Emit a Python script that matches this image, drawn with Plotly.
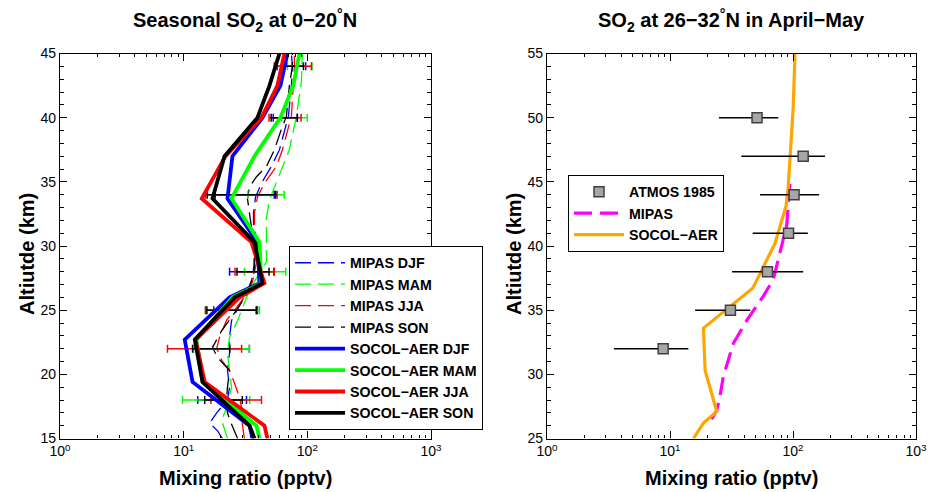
import plotly.graph_objects as go

W, H = 928, 492

# ---------------- Left: seasonal SO2 at 0-20N ----------------
# SOCOL-AER seasonal profiles (altitude km, mixing ratio pptv)
socol_alt = [15, 16, 19.4, 22.7, 26, 27.1, 30.3, 33.7, 37, 40, 42.5, 45]
socol_djf = [36.0, 34.1, 11.8, 10.2, 23.5, 41.0, 39.5, 22.6, 24.8, 43.4, 60.6, 69.0]
socol_mam = [41.0, 38.8, 14.2, 12.7, 24.8, 42.6, 41.0, 24.4, 37.4, 60.6, 77.1, 86.2]
socol_jja = [47.6, 45.0, 14.8, 12.5, 28.3, 45.0, 35.3, 14.0, 21.8, 42.6, 57.3, 65.3]
socol_son = [37.4, 34.1, 14.2, 12.3, 25.8, 43.4, 37.4, 17.1, 21.4, 39.5, 49.4, 59.5]

# MIPAS seasonal profiles
mipas_djf_alt = [15, 15.6, 16.2, 17, 18, 19, 20.3, 21.7, 22.9, 24.2, 25.8, 27.2, 28.75,
                 30.3, 31.5, 32.6, 33.8, 34.9, 36.2, 37.5, 40.1, 42.5, 44, 45]
mipas_djf = [20.6, 18.8, 16.2, 18.5, 22.6, 23.5, 22.6, 23.5, 23.5, 24.4, 29.9, 35.3, 37.4,
             38.1, 36.7, 36.7, 38.1, 42.6, 51.2, 59.5, 70.3, 74.3, 75.7, 74.3]
mipas_mam_alt = [15, 16.4, 17.4, 19, 20.3, 21.6, 22.9, 24.2, 26.2, 27.5, 28.75, 30.3,
                 32.2, 33.6, 35.2, 37.5, 40.1, 42.8, 45]
mipas_mam = [22.6, 20.3, 22.2, 24.4, 23.5, 22.6, 23.5, 27.3, 32.8, 38.8, 46.7, 46.7,
             46.7, 49.4, 57.3, 71.6, 81.5, 89.5, 91.1]
mipas_jja_alt = [15, 16.5, 17.4, 18.2, 19.3, 20.3, 21.1, 22, 22.9, 24.2, 25.8, 27.2, 28.75,
                 30.3, 31.5, 32.6, 33.8, 34.9, 36.2, 37.5, 40.1, 42.5, 44, 45]
mipas_jja = [31.0, 29.4, 29.4, 28.3, 25.8, 23.5, 20.3, 18.5, 19.5, 22.2, 29.9, 36.0, 38.8,
             38.8, 37.4, 37.4, 39.5, 45.0, 56.2, 62.9, 74.3, 77.1, 78.6, 78.6]
mipas_son_alt = [15, 16.1, 17, 18, 19, 20.3, 21.3, 22.1, 23.4, 25, 26.2, 28, 30.3, 32.6,
                 33.7, 34.6, 35.4, 36.2, 37.5, 39.1, 40.1, 42.5, 44, 45]
mipas_son = [27.3, 24.4, 22.6, 22.2, 22.6, 23.5, 18.8, 17.1, 20.3, 26.8, 32.2, 37.4, 36.7, 34.1,
             32.8, 34.1, 38.8, 46.7, 54.2, 61.7, 67.7, 71.6, 75.7, 75.7]

# MIPAS values and uncertainties at the error-bar levels
err_alt = [18, 22, 25, 28, 34, 40, 44]
err_djf_val = [22.6, 23.5, 28.5, 38.5, 36.0, 68.0, 77.0]
err_djf = [9.6, 10.5, 11.0, 15.0, 18.0, 15.0, 20.0]
err_mam_val = [22.0, 23.0, 28.0, 49.0, 49.0, 81.0, 89.0]
err_mam = [12.2, 11.0, 13.0, 18.0, 16.0, 19.0, 20.0]
err_jja_val = [29.6, 18.4, 27.0, 40.0, 36.0, 69.0, 81.0]
err_jja = [13.0, 11.0, 12.0, 14.0, 21.0, 20.0, 27.0]
err_son_val = [22.3, 17.7, 27.0, 38.0, 35.5, 67.0, 78.0]
err_son = [7.5, 5.9, 11.6, 11.0, 20.0, 16.0, 15.0]

# ---------------- Right: SO2 at 26-32N in April-May ----------------
atmos_alt = [50, 47, 44, 41, 38, 35, 32]
atmos_val = [51.0, 121.0, 102.0, 92.0, 62.0, 31.0, 8.8]
atmos_err_plus = [25.0, 61.0, 61.0, 40.0, 59.0, 14.0, 5.3]
atmos_err_minus = [26.0, 83.0, 48.0, 45.0, 30.0, 15.0, 5.3]

mipas_am_alt = [26.5, 27.2, 28.3, 29.8, 32.4, 34.2, 36.1, 37.4, 39.5, 41.6, 43.1, 45]
mipas_am = [21.8, 24.0, 25.5, 27.1, 32.7, 42.1, 57.4, 69.2, 78.4, 88.9, 91.5, 94.6]

socol_am_alt = [25, 26.2, 27.1, 30.3, 33.6, 36.7, 40.2, 41.6, 43.1, 44.6, 47, 50.9, 55]
socol_am = [15.5, 18.7, 24.0, 19.3, 18.7, 47.0, 71.4, 78.4, 87.7, 91.5, 94.6, 100.5, 103.8]

x_ticks = [1, 10, 100, 1000]
x_ticktext = ["10<sup>0</sup>", "10<sup>1</sup>", "10<sup>2</sup>", "10<sup>3</sup>"]

BLUE, GREEN, RED, BLACK = "#0000ff", "#00ff00", "#ff0000", "#000000"
ORANGE, MAGENTA = "#ffa500", "#ff00ff"
FONT = "Liberation Sans, Arial, Helvetica, sans-serif"

fig = go.Figure()

seasons = [
    ("DJF", BLUE, mipas_djf_alt, mipas_djf, err_djf_val, err_djf, socol_djf),
    ("MAM", GREEN, mipas_mam_alt, mipas_mam, err_mam_val, err_mam, socol_mam),
    ("JJA", RED, mipas_jja_alt, mipas_jja, err_jja_val, err_jja, socol_jja),
    ("SON", BLACK, mipas_son_alt, mipas_son, err_son_val, err_son, socol_son),
]

# MIPAS dashed profiles
for name, col, alt, val, _, _, _ in seasons:
    fig.add_trace(go.Scatter(
        x=val, y=alt, mode="lines", name=f"MIPAS {name}",
        line=dict(color=col, width=1.3, dash="16px,7px"),
        xaxis="x", yaxis="y", legend="legend", legendrank=1,
    ))

# MIPAS uncertainties
for name, col, _, _, ev, ee, _ in seasons:
    fig.add_trace(go.Scatter(
        x=ev, y=err_alt, mode="markers", showlegend=False,
        marker=dict(size=1, color=col),
        error_x=dict(type="data", array=ee, symmetric=True, color=col,
                     thickness=1.5, width=4),
        xaxis="x", yaxis="y", hoverinfo="skip",
    ))

# SOCOL-AER solid profiles
for name, col, _, _, _, _, sv in seasons:
    fig.add_trace(go.Scatter(
        x=sv, y=socol_alt, mode="lines", name=f"SOCOL\u2212AER {name}",
        line=dict(color=col, width=3.8),
        xaxis="x", yaxis="y", legend="legend", legendrank=2,
    ))

# Right panel
fig.add_trace(go.Scatter(
    x=mipas_am, y=mipas_am_alt, mode="lines", name="MIPAS",
    line=dict(color=MAGENTA, width=3.2, dash="18px,8px"),
    xaxis="x2", yaxis="y2", legend="legend2", legendrank=2,
))
fig.add_trace(go.Scatter(
    x=socol_am, y=socol_am_alt, mode="lines", name="SOCOL\u2212AER",
    line=dict(color=ORANGE, width=3.2),
    xaxis="x2", yaxis="y2", legend="legend2", legendrank=3,
))
fig.add_trace(go.Scatter(
    x=atmos_val, y=atmos_alt, mode="markers", name="ATMOS 1985",
    marker=dict(symbol="square", size=10, color="#a6a6a6",
                line=dict(color="#404040", width=1.5)),
    error_x=dict(type="data", array=atmos_err_plus, arrayminus=atmos_err_minus,
                 symmetric=False, color="#000000", thickness=1.5, width=0),
    xaxis="x2", yaxis="y2", legend="legend2", legendrank=1,
))

# ---------------- Layout ----------------
def px_x(p):
    return p / W

def px_y(p):
    return 1 - p / H

left_dom = [px_x(60), px_x(431)]
right_dom = [px_x(547), px_x(916)]
y_dom = [px_y(438.5), px_y(53.5)]

tickfont = dict(family=FONT, size=14, color="black")

def xaxis_common(dom, anchor):
    return dict(
        domain=dom, anchor=anchor, type="log", range=[0, 3], automargin=False,
        tickvals=x_ticks, ticktext=x_ticktext, ticks="inside", ticklen=7,
        tickwidth=1, tickcolor="black",
        minor=dict(ticks="inside", ticklen=3.5, tickcolor="black", tickwidth=1,
                   dtick="D1", showgrid=False),
        showline=True, linecolor="black", linewidth=1.3, mirror="allticks",
        showgrid=False, zeroline=False, tickfont=tickfont,
    )

def yaxis_common(rng, anchor):
    return dict(
        domain=y_dom, anchor=anchor, range=rng, automargin=False,
        tickvals=list(range(int(rng[0]), int(rng[1]) + 1, 5)),
        ticks="inside", ticklen=7, tickwidth=1, tickcolor="black",
        minor=dict(ticks="inside", ticklen=3.5, tickcolor="black", tickwidth=1,
                   dtick=1, showgrid=False),
        showline=True, linecolor="black", linewidth=1.3, mirror="allticks",
        showgrid=False, zeroline=False, tickfont=tickfont,
    )

legend_font = dict(family=FONT, size=14.2, color="black", weight="bold")

fig.update_layout(
    width=W, height=H,
    margin=dict(l=0, r=0, t=0, b=0, autoexpand=False),
    paper_bgcolor="white", plot_bgcolor="white",
    xaxis=xaxis_common(left_dom, "y"),
    yaxis=yaxis_common([15, 45], "x"),
    xaxis2=xaxis_common(right_dom, "y2"),
    yaxis2=yaxis_common([25, 55], "x2"),
    legend=dict(
        x=px_x(289), y=px_y(246), xanchor="left", yanchor="top",
        bgcolor="white", bordercolor="black", borderwidth=1,
        font=legend_font, itemwidth=50, tracegroupgap=0,
    ),
    legend2=dict(
        x=px_x(568), y=px_y(175), xanchor="left", yanchor="top",
        bgcolor="white", bordercolor="black", borderwidth=1,
        font=legend_font, itemwidth=50, tracegroupgap=0,
    ),
    showlegend=True,
)

title_font = dict(family=FONT, size=20, color="black", weight="bold")
label_font = dict(family=FONT, size=20, color="black", weight="bold")

annotations = [
    dict(text="Seasonal SO<sub>2</sub> at 0\u221220<sup>\u00b0</sup>N",
         x=px_x(245.5), y=px_y(20), font=title_font),
    dict(text="SO<sub>2</sub> at 26\u221232<sup>\u00b0</sup>N in April\u2212May",
         x=px_x(731.5), y=px_y(20), font=title_font),
    dict(text="Mixing ratio (pptv)", x=px_x(245.5), y=px_y(478), font=label_font),
    dict(text="Mixing ratio (pptv)", x=px_x(731.5), y=px_y(478), font=label_font),
    dict(text="Altiutde (km)", x=px_x(27), y=px_y(254), textangle=-90, font=label_font),
    dict(text="Altiutde (km)", x=px_x(514), y=px_y(254), textangle=-90, font=label_font),
]
for a in annotations:
    a.update(xref="paper", yref="paper", xanchor="center", yanchor="middle",
             showarrow=False)
fig.update_layout(annotations=annotations)

fig.write_html("out.html")
